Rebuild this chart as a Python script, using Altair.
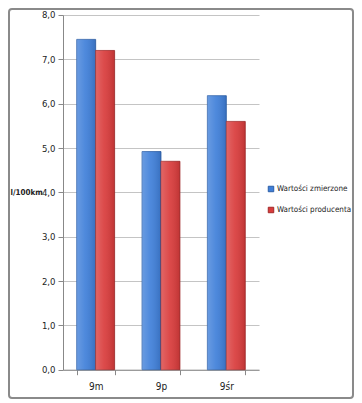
import altair as alt
import pandas as pd

categories = ["9m", "9p", "9śr"]
series_names = ["Wartości zmierzone", "Wartości producenta"]
zmierzone = [7.45, 4.92, 6.18]
producenta = [7.2, 4.7, 5.6]

rows = []
for i, c in enumerate(categories):
    rows.append({"cat": c, "series": series_names[0], "value": zmierzone[i]})
    rows.append({"cat": c, "series": series_names[1], "value": producenta[i]})
df = pd.DataFrame(rows)

FONT = "DejaVu Sans Condensed, Liberation Sans, sans-serif"
fills = ["#3f7fd9", "#d93b3b"]
strokes = ["#2b5da6", "#a12828"]

x_enc = alt.X("cat:N", sort=categories, title=None,
              scale=alt.Scale(paddingInner=0.42, paddingOuter=0.21),
              axis=alt.Axis(labelAngle=0, tickBand="extent", tickSize=5,
                            labelPadding=7, labelFontSize=10, labelColor="#222",
                            domainColor="#888", tickColor="#888", grid=False))
y_enc = alt.Y("value:Q", title="l/100km",
              scale=alt.Scale(domain=[0, 8], nice=False),
              axis=alt.Axis(values=[0, 1, 2, 3, 4, 5, 6, 7, 8],
                            labelExpr="replace(format(datum.value, '.1f'), '.', ',')",
                            tickSize=5, labelPadding=3, labelFontSize=9.5,
                            labelColor="#222", domainColor="#888", tickColor="#888",
                            gridColor="#c4c4c4", titleAngle=0, titleX=-53, titleY=178,
                            titleAlign="left", titleBaseline="middle",
                            titleFontSize=8, titleFontWeight="bold", titleColor="#222"))
xo = alt.XOffset("series:N", sort=series_names, scale=alt.Scale(domain=series_names, paddingInner=0))

base = alt.Chart(df).mark_bar(strokeWidth=0.8).encode(
    x=x_enc, y=y_enc, xOffset=xo,
    color=alt.Color("series:N", sort=series_names,
                    scale=alt.Scale(domain=series_names, range=fills),
                    legend=alt.Legend(title=None, orient="none", legendX=204, legendY=170,
                                      symbolType="square", symbolSize=30,
                                      symbolStrokeWidth=1, labelFontSize=8,
                                      labelColor="#222", rowPadding=11,
                                      labelOffset=2, labelLimit=200, padding=0)),
    stroke=alt.Stroke("series:N", sort=series_names,
                      scale=alt.Scale(domain=series_names, range=strokes), legend=None),
)

shade = alt.Chart(df).mark_bar(
    fill=alt.Gradient(gradient="linear", x1=0, x2=1, y1=0, y2=0,
                      stops=[alt.GradientStop(offset=0, color="rgba(255,255,255,0.22)"),
                             alt.GradientStop(offset=0.45, color="rgba(255,255,255,0.08)"),
                             alt.GradientStop(offset=1, color="rgba(0,0,0,0.12)")])
).encode(x=x_enc, y=y_enc, xOffset=xo)

frame = alt.Chart(pd.DataFrame({"f": [0]})).mark_rect(
    fill="transparent", stroke="#8a8a8a", strokeWidth=2, cornerRadius=3
).encode(x=alt.value(-54), x2=alt.value(290), y=alt.value(-6), y2=alt.value(383))

chart = alt.layer(base, shade, frame).properties(
    width=196, height=354.7,
    autosize=alt.AutoSizeParams(type="none"),
    padding={"left": 55, "top": 7, "right": 95, "bottom": 31},
    background="white",
).configure(font=FONT).configure_view(strokeWidth=0, stroke="transparent").configure_axisX(grid=False)

chart.save("out.html", embed_options={"renderer": "svg", "actions": False})
